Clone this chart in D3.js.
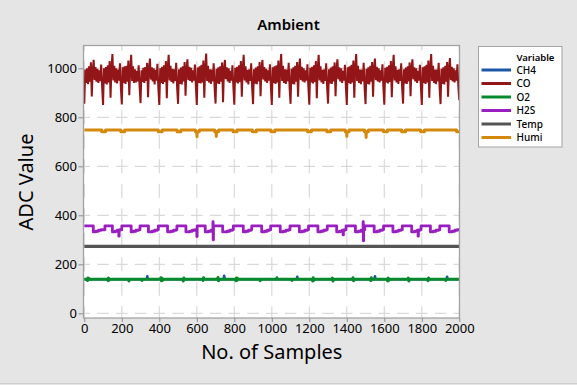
<!DOCTYPE html>
<html><head><meta charset="utf-8">
<script src="https://cdn.jsdelivr.net/npm/d3@7"></script>
<style>html,body{margin:0;padding:0;background:#e5e5e5;} svg{display:block;font-family:"Noto Sans","Open Sans",sans-serif;}</style>
</head><body><svg id="c" width="577" height="385"></svg>
<script>
const titleText = "Ambient";
const xTitle = "No. of Samples";
const yTitle = "ADC Value";
const legendTitle = "Variable";
const xTicks = [0,200,400,600,800,1000,1200,1400,1600,1800,2000];
const yTicks = [0,200,400,600,800,1000];
const seriesNames = ["CH4","CO","O2","H2S","Temp","Humi"];

// CH4 (mostly hidden under O2)
const ch4Samples = [0,333,336,339,743,746,749,1133,1136,1139,1547,1550,1553,1932,1935,1938,2000];
const ch4Values  = [139,139,151,139,139,153,139,139,149,139,139,151,139,139,149,139,139];

// CO, every 5 samples
const coSamples = d3.range(0, 2001, 5);
const coValues = [
 855,995,940,1000,935,1008,945,1025,885,995,1035,952,1005,945,998,940,992,948,1015,925,
 850,1000,938,1005,934,1012,942,1030,880,1002,1058,950,1010,942,1000,938,995,950,1020,920,
 852,1004,940,1008,936,1010,945,1032,890,1000,1055,948,1008,940,996,942,990,946,1012,923,
 858,992,944,1002,940,1005,948,1022,882,998,1040,954,1004,946,1000,934,994,950,1018,917,
 850,1000,940,1006,936,1012,944,1030,878,1004,1055,950,1010,944,998,938,996,948,1022,921,
 855,996,936,1003,934,1008,946,1026,888,998,1037,952,1006,948,1002,942,992,950,1015,925,
 850,1003,940,1008,938,1014,942,1032,880,1004,1060,948,1010,942,996,936,995,946,1020,919,
 856,998,938,1004,936,1008,945,1024,862,996,1034,956,1004,946,1000,940,990,950,1012,923,
 851,1002,942,1006,938,1012,944,1030,884,1002,1055,950,1008,942,994,934,996,948,1020,921,
 854,996,937,1003,935,1008,946,1026,886,998,1034,954,1005,946,998,940,992,950,1016,925,
 850,1004,940,1008,936,1012,942,1032,880,1004,1058,948,1010,940,996,936,995,946,1022,919,
 855,998,936,1004,934,1010,945,1026,884,1000,1040,952,1006,946,1000,942,992,950,1016,923,
 851,1002,942,1006,938,1012,944,1030,878,1002,1055,950,1008,942,994,936,996,948,1020,921,
 856,996,938,1003,936,1008,946,1024,886,998,1037,955,1004,946,1000,940,990,950,1014,925,
 850,1004,940,1008,936,1014,942,1032,880,1004,1058,948,1010,940,995,935,995,946,1022,919,
 854,998,936,1004,934,1010,945,1026,884,1000,1040,952,1006,946,1000,942,992,950,1016,923,
 851,1002,942,1006,938,1012,944,1030,882,1002,1055,950,1008,942,994,936,996,948,1020,921,
 856,996,938,1003,936,1008,946,1024,886,998,1037,955,1004,946,1000,940,990,950,1014,925,
 850,1004,940,1008,936,1014,942,1032,880,1004,1058,948,1010,940,995,935,995,946,1022,919,
 854,998,936,1004,934,1010,945,1026,884,1000,1042,952,1006,946,1000,942,992,950,1016,923,
 870];

// O2
const o2Samples = [0,15,17,19,21,23,26, 125,127,129,131,134, 235,238,241, 305,308,311, 405,408,411,414,417,420, 525,528,531,534, 630,633,636,639, 710,713,716,719, 805,808,811,814,817,820, 935,938,941, 1024,1027,1030, 1105,1108,1111, 1215,1218,1221,1224,1227, 1320,1323,1326,1329, 1430,1433,1436,1439, 1525,1528,1531,1534, 1615,1618,1621,1624,1627, 1725,1728,1731,1734, 1830,1833,1836,1839, 1925,1928,1931, 2000];
const o2Values  = [139,139,134,144,136,143,139, 139,133,144,135,139, 139,132,139, 139,134,139, 139,145,133,143,134,139, 139,132,144,139, 139,134,145,139, 139,146,133,139, 139,133,144,134,143,139, 139,133,139, 139,145,139, 139,134,139, 139,132,145,134,139, 139,144,132,139, 139,145,133,139, 139,133,145,139, 139,132,144,134,139, 139,144,132,139, 139,133,144,139, 139,134,139, 139];

// H2S (step)
const h2sSamples = [0,48,62,76,90, 110,150,164,176,184,186,190, 200,250,262,276,290, 297,342,362,376,390, 395,444,462,476,490, 494,542,562,576,590, 600,602,645,662,676,686,687,689,738,762,776,790, 795,848,862,876,890, 893,946,962,976,988, 994,1045,1062,1076,1090, 1097,1147,1162,1176,1190, 1196,1246,1262,1276,1290, 1296,1346,1362,1376,1380,1382,1390, 1396,1446,1462,1476,1487,1488,1490, 1496,1546,1562,1576,1590, 1596,1646,1662,1676,1690, 1696,1746,1762,1776,1780,1782,1790, 1796,1846,1862,1876,1890, 1896,1946,1962,1976,1990,2000];
const h2sValues  = [357,332,335,339,341, 357,332,335,339,315,339,341, 357,332,335,339,341, 357,332,335,339,341, 357,332,335,339,341, 357,332,335,339,341, 313,357,332,335,339,374,300,357,332,335,339,341, 357,332,335,339,341, 357,332,335,339,341, 357,332,335,339,341, 357,332,335,339,341, 357,332,335,339,341, 357,332,335,339,320,339,341, 357,332,335,339,374,296,341, 357,332,335,339,341, 357,332,335,339,341, 357,332,335,339,315,339,341, 357,332,335,339,341, 357,332,335,339,341,341];

// Temp
const tempSamples = [0, 2000];
const tempValues = [273, 273];

// Humi
const humiSamples = [0,93,93,113,113,195,195,215,215,395,395,415,415,495,495,515,515,593,593,600,601,602,613,613,696,696,703,704,705,716,716,794,794,814,814,897,897,917,917,996,996,1016,1016,1191,1191,1211,1211,1294,1294,1314,1314,1392,1392,1399,1400,1401,1412,1412,1495,1495,1502,1503,1504,1515,1515,1596,1596,1616,1616,1693,1693,1713,1713,1794,1794,1814,1814,1986,1986,2000];
const humiValues  = [748,748,741,741,748,748,741,741,748,748,741,741,748,748,741,741,748,748,741,741,721,741,741,748,748,741,741,722,741,741,748,748,741,741,748,748,741,741,748,748,741,741,748,748,741,741,748,748,741,741,748,748,741,741,722,741,741,748,748,741,741,718,741,741,748,748,741,741,748,748,741,741,748,748,741,741,748,748,741,741];

const colors = ["#1d56a6","#921518","#078a2c","#9a1fc0","#555555","#d4890c"];
const widths = [2.6,2,3,2.8,3.2,3];

const svg = d3.select("#c");
const W = 577, H = 385;
const pL = 83.5, pR = 459.5, pT = 45.5, pB = 318;
const x = d3.scaleLinear().domain([0,2000]).range([84.3, 459.3]);
const y = d3.scaleLinear().domain([0,1000]).range([313.3, 68.3]);

svg.append("rect").attr("x",0).attr("y",0).attr("width",W).attr("height",H).attr("fill","#e5e5e5");
svg.append("line").attr("x1",0).attr("x2",W).attr("y1",383.5).attr("y2",383.5).attr("stroke","#cfcfcf");

svg.append("defs").append("clipPath").attr("id","clip")
  .append("rect").attr("x",pL).attr("y",pT).attr("width",pR-pL).attr("height",pB-pT);

svg.append("rect").attr("x",pL).attr("y",pT).attr("width",pR-pL).attr("height",pB-pT).attr("fill","#fff");

const grid = svg.append("g").attr("clip-path","url(#clip)");
yTicks.forEach(v=>{
  grid.append("line").attr("x1",x(0)).attr("x2",pR+20).attr("y1",y(v)).attr("y2",y(v))
   .attr("stroke","#d9d9d9").attr("stroke-width",1.2)
   .attr("stroke-dasharray","11.5,7.25").attr("stroke-dashoffset",5.75);
  grid.append("line").attr("x1",x(0)).attr("x2",pL-20).attr("y1",y(v)).attr("y2",y(v))
   .attr("stroke","#d9d9d9").attr("stroke-width",1.2)
   .attr("stroke-dasharray","11.5,7.25").attr("stroke-dashoffset",5.75);
});
xTicks.forEach(v=>{
  grid.append("line").attr("x1",x(v)).attr("x2",x(v)).attr("y1",y(-200)).attr("y2",pT-10)
   .attr("stroke","#d9d9d9").attr("stroke-width",1.2)
   .attr("stroke-dasharray","14,10.5").attr("stroke-dashoffset",7);
});

const plot = svg.append("g").attr("clip-path","url(#clip)");
const series = [
  {s:ch4Samples, v:ch4Values, curve:d3.curveLinear},
  {s:coSamples, v:coValues, curve:d3.curveLinear},
  {s:o2Samples, v:o2Values, curve:d3.curveLinear},
  {s:h2sSamples, v:h2sValues, curve:d3.curveStepAfter},
  {s:tempSamples, v:tempValues, curve:d3.curveLinear},
  {s:humiSamples, v:humiValues, curve:d3.curveLinear}
];
series.forEach((d,i)=>{
  const pts = d.s.map((s,j)=>[s, d.v[j]]);
  const line = d3.line().x(p=>x(p[0])).y(p=>y(p[1])).curve(d.curve);
  plot.append("path").attr("d",line(pts)).attr("fill","none")
    .attr("stroke",colors[i]).attr("stroke-width",widths[i])
    .attr("stroke-linejoin", i===1 ? "bevel" : "round");
});

svg.append("rect").attr("x",pL).attr("y",pT).attr("width",pR-pL).attr("height",pB-pT)
  .attr("fill","none").attr("stroke","#a3a3a3").attr("stroke-width",1.3);

const xAxis = svg.append("g").attr("transform",`translate(0,${pB})`)
  .call(d3.axisBottom(x).tickValues(xTicks).tickSize(4).tickSizeOuter(0).tickPadding(2).tickFormat(d3.format("d")));
const yAxis = svg.append("g").attr("transform",`translate(${pL},0)`)
  .call(d3.axisLeft(y).tickValues(yTicks).tickSize(5).tickSizeOuter(0).tickPadding(1.5).tickFormat(d3.format("d")));
[xAxis,yAxis].forEach(a=>{
  a.select(".domain").remove();
  a.selectAll(".tick line").attr("stroke","#8f8f8f");
  a.selectAll(".tick text").attr("fill","#000").style("font-size","13px").style("font-family",'"Noto Sans",sans-serif');
});

svg.append("text").attr("x",288.5).attr("y",30).attr("text-anchor","middle")
  .style("font-size","15px").style("font-weight","600").text(titleText);
svg.append("text").attr("x",271.8).attr("y",359).attr("text-anchor","middle")
  .style("font-size","20px").text(xTitle);
svg.append("text").attr("transform","translate(32.5,182) rotate(-90)").attr("text-anchor","middle")
  .style("font-size","20px").text(yTitle);

// legend
const lg = svg.append("g");
lg.append("rect").attr("x",478.5).attr("y",46.5).attr("width",83.5).attr("height",100.5)
  .attr("fill","#fff").attr("stroke","#a3a3a3");
lg.append("text").attr("x",516.5).attr("y",60.5).style("font-size","9.5px").style("font-weight","600").text(legendTitle);
seriesNames.forEach((n,i)=>{
  const cy = 70 + i*13.5;
  lg.append("line").attr("x1",481.5).attr("x2",511).attr("y1",cy).attr("y2",cy)
    .attr("stroke",colors[i]).attr("stroke-width",3);
  lg.append("text").attr("x",516.5).attr("y",cy+3.6).style("font-size","10px").style("font-weight","500").text(n);
});
</script></body></html>
